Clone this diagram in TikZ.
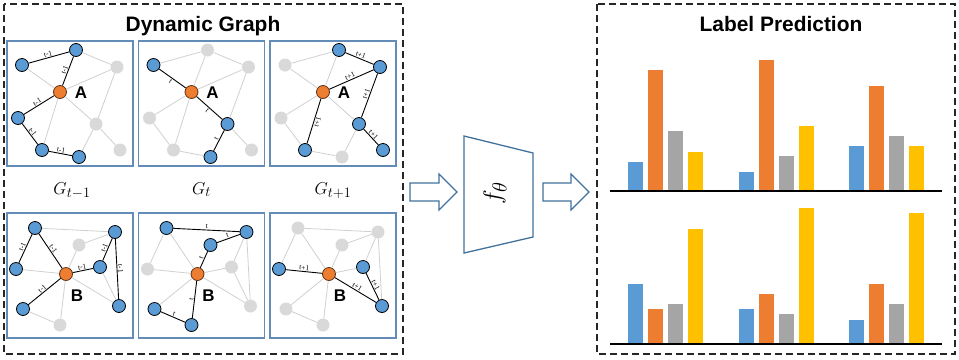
\documentclass[tikz,border=0pt]{standalone}
\usepackage[no-math]{fontspec}
\setmainfont{Liberation Sans}
\newfontfamily\labfont{Liberation Serif}
\definecolor{nblue}{RGB}{91,155,213}
\definecolor{norange}{RGB}{237,125,49}
\definecolor{ngray}{RGB}{217,217,217}
\definecolor{egray}{RGB}{208,208,208}
\definecolor{pborder}{RGB}{100,140,185}
\definecolor{bgray}{RGB}{165,165,165}
\definecolor{byellow}{RGB}{255,192,0}
\definecolor{arrowblue}{RGB}{65,113,156}
\tikzset{
  bn/.style={circle, fill=nblue, draw=black, line width=0.8bp, minimum size=13bp, inner sep=0pt},
  gn/.style={circle, fill=ngray, minimum size=13bp, inner sep=0pt},
  an/.style={circle, fill=norange, draw=black!60!norange, line width=0.8bp, minimum size=13bp, inner sep=0pt},
  ge/.style={draw=egray, line width=0.8bp},
  be/.style={draw=black, line width=0.9bp},
  lab/.style={font=\labfont\fontsize{7.5}{7.5}\selectfont, inner sep=0.6bp, sloped, midway},
  letter/.style={font=\bfseries\fontsize{17}{17}\selectfont, inner sep=0pt},
  panel/.style={draw=pborder, line width=1.3bp},
  dbox/.style={draw=black!85, line width=1.6bp, dash pattern=on 7bp off 4bp},
  title/.style={font=\bfseries\fontsize{21}{22}\selectfont, anchor=base, inner sep=0pt},
  glab/.style={font=\fontsize{19}{20}\selectfont, anchor=base, inner sep=0pt},
  blockarrow/.style={draw=arrowblue, line width=1.3bp, fill=white, line join=miter},
  bar/.style={draw=white, line width=0.5bp}
}
\newcommand\topnodes[9]{%
  \node[#2] (#1p1) at (15,24) {};
  \node[#3] (#1p2) at (69,9) {};
  \node[#4] (#1p3) at (110,26) {};
  \node[#5] (#1p4) at (11,77) {};
  \node[#6] (#1p5) at (89,83) {};
  \node[#7] (#1p6) at (35,109) {};
  \node[#8] (#1p7) at (72,116) {};
  \node[#9] (#1p8) at (113,109) {};
  \node[an] (#1a) at (53,51) {};
  \node[letter] (#1A) at (74,52) {A};
}
\newcommand\botnodes[9]{%
  \node[#2] (#1q1) at (28,15) {};
  \node[#3] (#1q2) at (108,19) {};
  \node[#4] (#1q3) at (9,56) {};
  \node[#5] (#1q4) at (93,54) {};
  \node[#6] (#1q5) at (16,96) {};
  \node[#7] (#1q6) at (112,93) {};
  \node[#8] (#1q7) at (72,32) {};
  \node[#9] (#1q8) at (53,112) {};
  \node[an] (#1b) at (59,61) {};
  \node[letter] (#1B) at (70,83) {B};
}
\begin{document}
\begin{tikzpicture}[x=1bp,y=-1bp]
\useasboundingbox (0,0) rectangle (959,359);

% dashed frames and titles
\draw[dbox] (4,4) rectangle (403,354);
\draw[dbox] (597,4) rectangle (955,354);
\node[title] (t1) at (203,31) {Dynamic Graph};
\node[title] (t2) at (781,31) {Label Prediction};

% ---------- top row ----------
\begin{scope}[shift={(7,41)}]
  \draw[panel] (0,0) rectangle (126,125);
  \topnodes{a}{bn}{bn}{gn}{bn}{gn}{bn}{bn}{gn}
  \draw[ge] (ap1)--(aa); \draw[ge] (ap2)--(ap3); \draw[ge] (aa)--(ap3);
  \draw[ge] (ap3)--(ap5); \draw[ge] (aa)--(ap5); \draw[ge] (ap5)--(ap8);
  \draw[ge] (aa)--(ap6); \draw[ge] (ap5)--(ap7);
  \draw[be] (ap1)--(ap2) node[lab,above]{t-1};
  \draw[be] (ap2)--(aa) node[lab,above]{t-1};
  \draw[be] (aa)--(ap4) node[lab,above]{t-1};
  \draw[be] (ap4)--(ap6) node[lab,above]{t-1};
  \draw[be] (ap6)--(ap7) node[lab,above]{t-1};
\end{scope}

\begin{scope}[shift={(138.5,41)}]
  \draw[panel] (0,0) rectangle (126,125);
  \topnodes{b}{bn}{gn}{gn}{gn}{bn}{gn}{bn}{gn}
  \draw[ge] (bp1)--(bp2); \draw[ge] (bp2)--(ba); \draw[ge] (bp2)--(bp3);
  \draw[ge] (ba)--(bp3); \draw[ge] (bp3)--(bp5); \draw[ge] (ba)--(bp4);
  \draw[ge] (ba)--(bp6); \draw[ge] (bp4)--(bp6); \draw[ge] (bp6)--(bp7);
  \draw[ge] (bp5)--(bp8);
  \draw[be] (bp1)--(ba) node[lab,below]{t};
  \draw[be] (ba)--(bp5) node[lab,below]{t};
  \draw[be] (bp5)--(bp7) node[lab,above]{t};
\end{scope}

\begin{scope}[shift={(270,41)}]
  \draw[panel] (0,0) rectangle (126,125);
  \topnodes{c}{gn}{bn}{bn}{gn}{bn}{bn}{gn}{bn}
  \draw[ge] (cp1)--(cp2); \draw[ge] (cp1)--(ca); \draw[ge] (cp2)--(ca);
  \draw[ge] (ca)--(cp4); \draw[ge] (ca)--(cp5); \draw[ge] (cp4)--(cp6);
  \draw[ge] (cp6)--(cp7); \draw[ge] (cp5)--(cp7);
  \draw[be] (cp2)--(cp3) node[lab,above]{t+1};
  \draw[be] (ca)--(cp3) node[lab,above]{t+1};
  \draw[be] (cp3)--(cp5) node[lab,above]{t+1};
  \draw[be] (ca)--(cp6) node[lab,below]{t+1};
  \draw[be] (cp5)--(cp8) node[lab,above]{t+1};
\end{scope}

% time labels
\node[glab] (g1) at (72,194) {$G_{t-1}$};
\node[glab] (g2) at (201.5,194) {$G_{t}$};
\node[glab] (g3) at (333,194) {$G_{t+1}$};

% ---------- bottom row ----------
\begin{scope}[shift={(7,213)}]
  \draw[panel] (0,0) rectangle (126,125);
  \botnodes{d}{bn}{bn}{bn}{bn}{bn}{bn}{gn}{gn}
  \draw[ge] (dq1)--(dq2); \draw[ge] (dq3)--(db); \draw[ge] (db)--(dq7);
  \draw[ge] (dq7)--(dq2); \draw[ge] (dq4)--(dq6); \draw[ge] (db)--(dq6);
  \draw[ge] (db)--(dq8); \draw[ge] (dq5)--(dq8);
  \draw[be] (dq3)--(dq1) node[lab,above]{t-1};
  \draw[be] (dq1)--(db) node[lab,above]{t-1};
  \draw[be] (db)--(dq4) node[lab,above]{t-1};
  \draw[be] (dq4)--(dq2) node[lab,above]{t-1};
  \draw[be] (dq2)--(dq6) node[lab,above]{t-1};
  \draw[be] (dq5)--(db) node[lab,above]{t-1};
\end{scope}

\begin{scope}[shift={(138.5,213)}]
  \draw[panel] (0,0) rectangle (126,125);
  \botnodes{e}{bn}{bn}{gn}{gn}{bn}{gn}{bn}{bn}
  \draw[ge] (eq1)--(eq3); \draw[ge] (eq1)--(eb); \draw[ge] (eq3)--(eb);
  \draw[ge] (eb)--(eq4); \draw[ge] (eq2)--(eq4); \draw[ge] (eq2)--(eq6);
  \draw[ge] (eq4)--(eq6); \draw[ge] (eb)--(eq6); \draw[ge] (eb)--(eq5);
  \draw[be] (eq1)--(eq2) node[lab,above]{t};
  \draw[be] (eq7)--(eq2) node[lab,above]{t};
  \draw[be] (eb)--(eq7) node[lab,above]{t};
  \draw[be] (eq8)--(eb) node[lab,above]{t};
  \draw[be] (eq5)--(eq8) node[lab,above]{t};
\end{scope}

\begin{scope}[shift={(270,213)}]
  \draw[panel] (0,0) rectangle (126,125);
  \botnodes{f}{gn}{gn}{bn}{bn}{gn}{bn}{gn}{gn}
  \draw[ge] (fq1)--(fq2); \draw[ge] (fq1)--(fq3); \draw[ge] (fq1)--(fb);
  \draw[ge] (fb)--(fq7); \draw[ge] (fq7)--(fq2); \draw[ge] (fb)--(fq4);
  \draw[ge] (fq2)--(fq4); \draw[ge] (fq2)--(fq6); \draw[ge] (fb)--(fq5);
  \draw[ge] (fb)--(fq8); \draw[ge] (fq5)--(fq8);
  \draw[be] (fq3)--(fb) node[lab,above]{t+1};
  \draw[be] (fb)--(fq6) node[lab,above]{t+1};
  \draw[be] (fq4)--(fq6) node[lab,above]{t+1};
\end{scope}

% ---------- model ----------
\draw[blockarrow] (410,183)--(439,183)--(439,174)--(457,192)--(439,210)--(439,201)--(410,201)--cycle;
\draw[blockarrow] (464,136)--(533,153)--(533,237)--(464,253)--cycle;
\node[rotate=90, font=\fontsize{32}{34}\selectfont, inner sep=0pt] (ft) at (495,193) {$f_\theta$};
\draw[blockarrow] (543,183)--(571,183)--(571,174)--(589,192)--(571,210)--(571,201)--(543,201)--cycle;

% ---------- bar charts ----------
% upper
\fill[bar, fill=nblue]   (627,191) rectangle (643,161);
\fill[bar, fill=norange] (647,191) rectangle (663,69);
\fill[bar, fill=bgray]   (667,191) rectangle (683,130);
\fill[bar, fill=byellow] (687,191) rectangle (703,151);
\fill[bar, fill=nblue]   (738,191) rectangle (754,171);
\fill[bar, fill=norange] (758,191) rectangle (774,59);
\fill[bar, fill=bgray]   (778,191) rectangle (794,155);
\fill[bar, fill=byellow] (798,191) rectangle (814,125);
\fill[bar, fill=nblue]   (848,191) rectangle (864,145);
\fill[bar, fill=norange] (868,191) rectangle (884,85);
\fill[bar, fill=bgray]   (888,191) rectangle (904,135);
\fill[bar, fill=byellow] (908,191) rectangle (924,145);
\draw[line width=1.8bp] (610,191)--(942,191);
% lower
\fill[bar, fill=nblue]   (627,344) rectangle (643,283);
\fill[bar, fill=norange] (647,344) rectangle (663,308);
\fill[bar, fill=bgray]   (667,344) rectangle (683,303);
\fill[bar, fill=byellow] (687,344) rectangle (703,228);
\fill[bar, fill=nblue]   (738,344) rectangle (754,308);
\fill[bar, fill=norange] (758,344) rectangle (774,293);
\fill[bar, fill=bgray]   (778,344) rectangle (794,313);
\fill[bar, fill=byellow] (798,344) rectangle (814,207);
\fill[bar, fill=nblue]   (848,344) rectangle (864,319);
\fill[bar, fill=norange] (868,344) rectangle (884,283);
\fill[bar, fill=bgray]   (888,344) rectangle (904,303);
\fill[bar, fill=byellow] (908,344) rectangle (924,212);
\draw[line width=1.8bp] (610,344)--(942,344);
\end{tikzpicture}
\end{document}
